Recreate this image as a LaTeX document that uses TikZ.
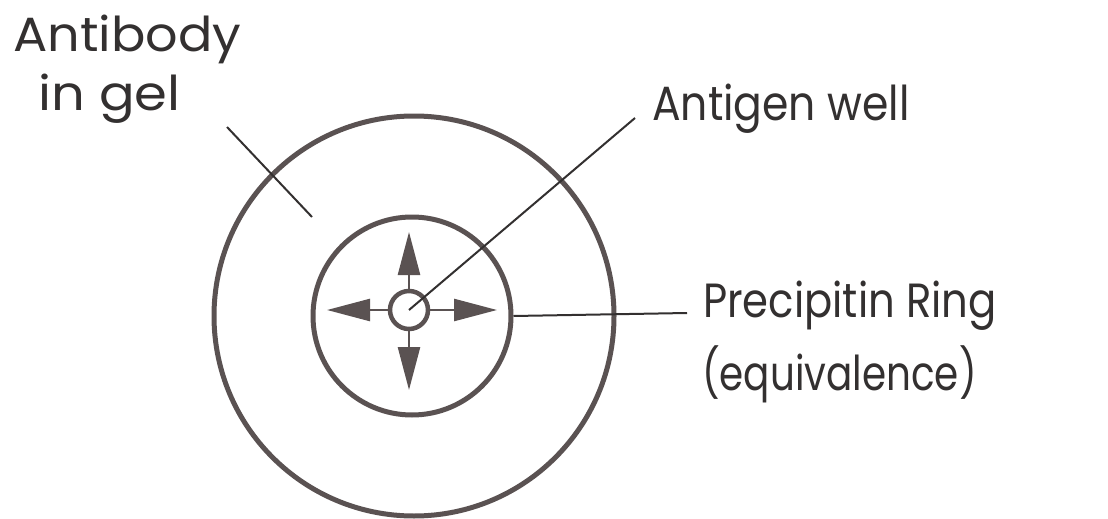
\documentclass[tikz,border=0pt]{standalone}
\usepackage{fontspec}
\setmainfont{Poppins}
\usetikzlibrary{arrows.meta}
\definecolor{ink}{HTML}{333030}
\definecolor{ring}{HTML}{5A5252}
\tikzset{
  lbl/.style={inner sep=0pt, anchor=base west, text=ink, font=\fontsize{48}{58}\selectfont},
  circ/.style={circle, draw=ring, line width=5pt, inner sep=0pt},
  leader/.style={draw=ink, line width=2pt},
  spread/.style={draw=ring, line width=2.5pt, -{Triangle[length=43pt,width=22pt]}, fill=ring}
}
\begin{document}
\begin{tikzpicture}[x=1pt,y=-1pt]
\useasboundingbox (0,0) rectangle (1108,519);
\node[circ, minimum size=400pt] (outer) at (414,316) {};
\node[circ, minimum size=198pt] (inner) at (412,316) {};
\node[circ, minimum size=38pt, line width=4.5pt] (well) at (409,310) {};
% spreading arrows
\coordinate (tu) at (409,232);
\coordinate (td) at (409,390);
\coordinate (tl) at (327,310);
\coordinate (tr) at (497,310);
\draw[spread] (well.north) -- (tu);
\draw[spread] (well.south) -- (td);
\draw[spread] (well.west) -- (tl);
\draw[spread] (well.east) -- (tr);
% labels
\node[lbl] (ab1) at (13,52) {\scalebox{1.06}[1]{Antibody}};
\node[lbl] (ab2) at (38,110) {\scalebox{1.1}[1]{in gel}};
\node[lbl] (ag) at (652,120) {\scalebox{0.885}[1]{Antigen well}};
\node[lbl] (pr1) at (703,317) {\scalebox{0.87}[1]{Precipitin Ring}};
\node[lbl] (pr2) at (702,390) {\scalebox{0.81}[1]{(equivalence)}};
% leaders
\coordinate (abS) at (227,127);
\coordinate (abE) at (312,217);
\coordinate (agE) at (635,118);
\coordinate (prE) at (687,313);
\draw[leader] (abS) -- (abE);
\draw[leader] (well.center) -- (agE);
\draw[leader] (inner.east) -- (prE);
\end{tikzpicture}
\end{document}
